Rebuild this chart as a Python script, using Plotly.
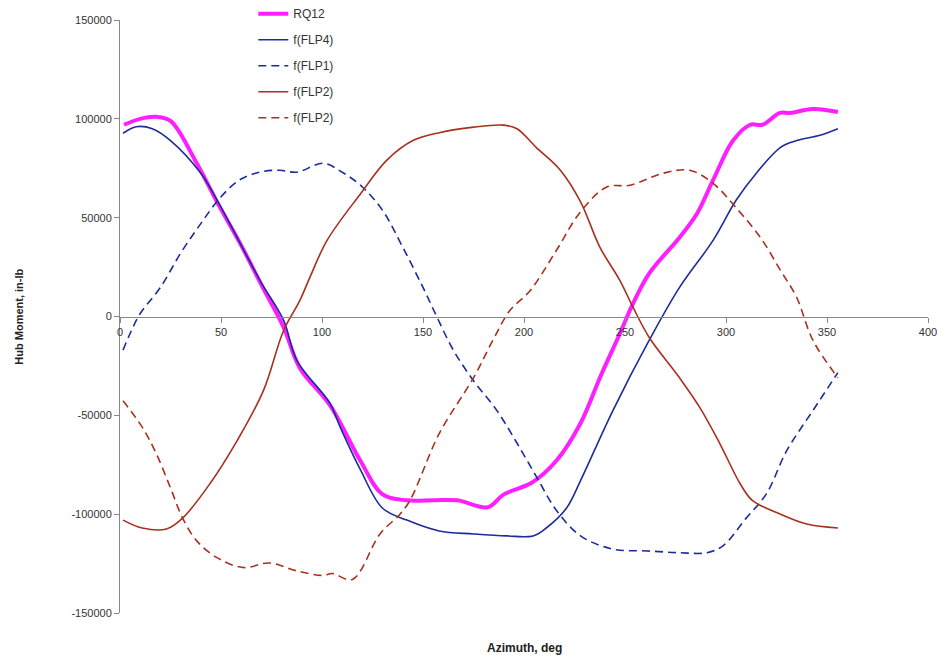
import plotly.graph_objects as go

# ---- data ----
rq12_x = [2, 10, 18, 25, 38, 48, 60, 70, 81, 89, 104, 119, 130, 142, 155, 167, 182, 190, 204, 216, 228, 238, 247.5, 254, 262, 277, 285.6, 293.6, 303.5, 312, 318, 326.7, 331.7, 343, 355.4]
rq12_y = [97000, 100000, 101000, 99000, 77500, 58000, 36000, 16000, -5500, -26000, -45000, -73000, -90000, -93000, -93000, -93000, -96500, -90000, -84000, -73000, -54000, -30000, -8600, 6600, 21800, 40000, 52000, 69000, 89000, 97000, 97000, 103000, 103000, 105000, 103500]

flp4_x = [1.5, 8, 16, 25, 40, 48, 60, 70, 81, 87.6, 104, 109, 119, 130, 142, 158, 175, 191.5, 204.5, 211, 221, 228, 244, 262, 277, 293.6, 305, 315, 327, 335, 346.5, 355.4]
flp4_y = [92700, 96000, 95000, 89000, 72500, 59000, 36000, 17000, -2000, -22300, -44000, -56000, -77500, -97000, -103000, -108500, -110000, -111000, -111000, -107000, -97000, -83000, -47600, -12000, 14700, 38500, 58800, 72500, 85600, 89000, 91700, 95000]

flp1_x = [1.5, 5, 10, 20, 30, 40, 49.5, 59, 69, 79, 87.6, 100.5, 110, 120, 130, 140, 150, 157, 165, 175, 186.6, 196.5, 206.4, 216, 228, 244, 261, 277, 290.6, 298.5, 310, 320, 330, 343, 355.4]
flp1_y = [-17000, -8600, 1500, 14700, 32000, 47000, 60000, 69000, 73000, 74000, 73000, 77500, 73000, 65500, 53700, 35000, 14700, -500, -17000, -32500, -47600, -64000, -81500, -98000, -111000, -117700, -118600, -119500, -119500, -116000, -102000, -89700, -68000, -47600, -28400]

flp2a_x = [1.5, 11, 23, 31, 44.5, 58, 71, 81, 89, 94, 102.5, 119, 132, 145, 158, 175, 190, 196.5, 206, 218, 228, 237.6, 247.5, 254, 262, 277, 287, 297, 307, 313, 327, 340, 355.4]
flp2a_y = [-103000, -107000, -107500, -102000, -84600, -62800, -37500, -7100, 8000, 19800, 38500, 62000, 79000, 89000, 93000, 95800, 96800, 95000, 85600, 74000, 58000, 35000, 18200, 4600, -10600, -31000, -46000, -64400, -84600, -93000, -100000, -105000, -107000]

flp2b_x = [1.5, 11, 18, 25, 31, 38, 48, 61, 74, 87.6, 100.5, 105, 115, 128.7, 138.6, 143.6, 158, 175, 184.6, 193, 203, 216, 228, 241, 252.5, 269, 282, 293.6, 305, 317, 327, 335, 343, 355.4]
flp2b_y = [-42600, -56000, -69500, -86700, -102000, -113500, -122000, -127000, -124700, -128700, -131000, -130000, -133000, -110000, -100000, -93000, -59300, -31000, -12000, 3000, 13000, 33400, 53000, 65500, 66400, 72500, 74000, 67400, 55000, 40000, 23300, 9600, -12000, -31000]

names = ["RQ12", "f(FLP4)", "f(FLP1)", "f(FLP2)", "f(FLP2)"]

x_ticks = [0, 50, 100, 150, 200, 250, 300, 350, 400]
y_ticks = [-150000, -100000, -50000, 0, 50000, 100000, 150000]

BLUE = "#1c2c9c"
RED = "#a8301f"
MAGENTA = "#ff1eff"

fig = go.Figure()
series = [
    (rq12_x, rq12_y, names[0], dict(color=MAGENTA, width=4)),
    (flp4_x, flp4_y, names[1], dict(color=BLUE, width=1.6)),
    (flp1_x, flp1_y, names[2], dict(color=BLUE, width=1.6, dash="8px,5px")),
    (flp2a_x, flp2a_y, names[3], dict(color=RED, width=1.6)),
    (flp2b_x, flp2b_y, names[4], dict(color=RED, width=1.6, dash="8px,5px")),
]
for i, (xs, ys, nm, ln) in enumerate(series):
    fig.add_trace(go.Scatter(x=xs, y=ys, name=nm, mode="lines", line=ln,
                             legendgroup=f"g{i}", line_shape="spline"))

tickfont = dict(family="Liberation Sans, Arial, sans-serif", size=11, color="#333333")

fig.update_layout(
    width=949, height=661,
    margin=dict(l=120, r=21, t=20, b=48, autoexpand=False),
    paper_bgcolor="white", plot_bgcolor="white",
    showlegend=True,
    legend=dict(x=0.165, y=1.035, xanchor="left", yanchor="top",
                font=dict(family="Liberation Sans, Arial, sans-serif", size=12, color="#333333"),
                bgcolor="rgba(255,255,255,0)", tracegroupgap=7),
    xaxis=dict(range=[0, 400], tickvals=x_ticks, ticktext=[str(v) for v in x_ticks],
               showgrid=False, zeroline=False, showline=True, linecolor="#888888", linewidth=1,
               ticks="outside", ticklen=5, tickcolor="#888888",
               anchor="free", position=0.5, tickfont=tickfont),
    yaxis=dict(range=[-150000, 150000], tickvals=y_ticks, ticktext=[str(v) for v in y_ticks],
               showgrid=False, zeroline=False, showline=True, linecolor="#888888", linewidth=1,
               ticks="outside", ticklen=5, tickcolor="#888888", tickfont=tickfont),
    annotations=[
        dict(text="<b>Azimuth, deg</b>", x=0.5, y=-0.059, xref="paper", yref="paper",
             showarrow=False, xanchor="center", yanchor="middle",
             font=dict(family="Liberation Sans, Arial, sans-serif", size=12, color="#222222")),
        dict(text="<b>Hub Moment, in-lb</b>", x=-0.126, y=0.5, xref="paper", yref="paper",
             showarrow=False, textangle=-90, xanchor="center", yanchor="middle",
             font=dict(family="Liberation Sans, Arial, sans-serif", size=11, color="#222222")),
    ],
)

fig.write_html("out.html")
